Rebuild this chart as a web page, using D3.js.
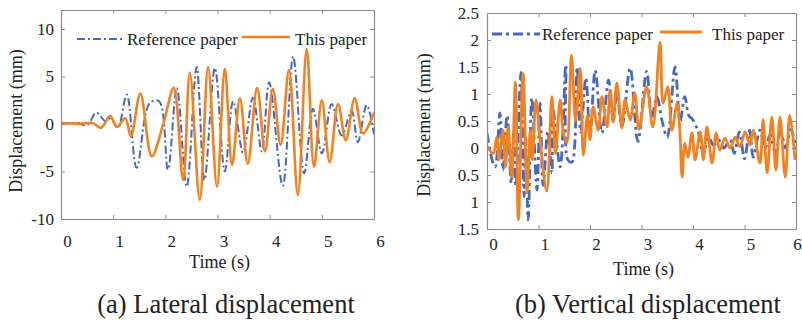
<!DOCTYPE html>
<meta charset="utf-8">
<script src="https://d3js.org/d3.v7.min.js"></script>
<style>
  body { margin: 0; background: #fff; }
  text { font-family: "Liberation Serif", "Tinos", "Times New Roman", "DejaVu Serif", serif; fill: #222; }
</style>
<body>
<svg id="chart" width="802" height="320"></svg>
<script>
// ---- data ----
var timeTicks = [0, 1, 2, 3, 4, 5, 6];
var timeLabels = ["0", "1", "2", "3", "4", "5", "6"];
var latYTicks = [-10, -5, 0, 5, 10];
var latYLabels = ["-10", "-5", "0", "5", "10"];
var vertYTicks = [-1.5, -1, -0.5, 0, 0.5, 1, 1.5, 2, 2.5];
var vertYLabels = ["1.5", "1", "0.5", "0", "0.5", "1", "1.5", "2", "2.5"]; // minus signs missing in the source
var seriesNames = ["Reference paper", "This paper"];
var captions = ["(a) Lateral displacement", "(b) Vertical displacement"];

// (a) lateral displacement, mm
var latRefT = [0, 0.3, 0.5, 0.68, 0.85, 0.95, 1.09, 1.26, 1.45, 1.7, 1.88, 2.05, 2.22, 2.41, 2.6, 2.75, 2.95, 3.14, 3.3, 3.49, 3.68, 3.85, 3.99, 4.25, 4.45, 4.66, 4.83, 5.0, 5.19, 5.38, 5.57, 5.69, 5.86, 6.0];
var latRefV = [0, 0.1, -0.1, 1.2, 0.3, 0.6, -0.4, 3.1, -4.6, 2.2, 2.4, -4.8, 3.8, -6.6, 6.0, -5.9, 5.9, -5.0, 2.4, -3.0, 2.8, -2.9, 4.4, -6.5, 7.1, -5.2, 1.6, -3.1, 2.1, -1.2, 1.4, -1.9, 2.0, -1.1];
var latThisT = [0, 0.2, 0.4, 0.6, 0.77, 0.94, 1.07, 1.23, 1.34, 1.52, 1.74, 1.97, 2.16, 2.34, 2.47, 2.66, 2.82, 2.99, 3.14, 3.28, 3.43, 3.58, 3.76, 3.91, 4.06, 4.21, 4.37, 4.54, 4.71, 4.85, 5.0, 5.15, 5.31, 5.46, 5.63, 5.79, 6.0];
var latThisV = [0.1, 0.05, 0.05, 0.1, -0.4, 0.85, -0.3, 0.6, -1.3, 3.2, -3.4, 0.2, 3.8, -5.9, 5.4, -8.0, 6.0, -6.6, 5.8, -4.3, 2.7, -4.2, 3.8, -2.9, 3.7, -2.2, 5.7, -7.5, 7.9, -4.5, 2.5, -4.0, 2.1, -1.7, 2.7, -1.0, 1.2];

// (b) vertical displacement, mm
var vertRefT = [0, 0.1, 0.16, 0.25, 0.31, 0.39, 0.47, 0.52, 0.56, 0.66, 0.72, 0.75, 0.8, 0.87, 0.97, 1.03, 1.09, 1.18, 1.26, 1.28, 1.42, 1.53, 1.57, 1.65, 1.7, 1.75, 1.82, 1.92, 2.0, 2.1, 2.23, 2.36, 2.45, 2.52, 2.62, 2.78, 2.93, 3.1, 3.2, 3.3, 3.4, 3.5, 3.65, 3.75, 3.84, 3.92, 4.0, 4.1, 4.2, 4.3, 4.4, 4.5, 4.6, 4.72, 4.8, 4.9, 5.0, 5.1, 5.17, 5.3, 5.4, 5.5, 5.6, 5.7, 5.8, 5.9, 6.0];
var vertRefV = [0.28, -0.22, -0.35, 0.65, -0.41, 0.6, -0.65, 0.3, -0.72, 1.4, -0.9, 0.2, -1.33, 0.92, -0.78, 0.83, -0.69, 0.3, -0.46, 0.74, -0.35, 1.54, -0.22, -0.26, 0.02, 1.5, 0.3, 1.3, 0.2, 1.44, 0.28, 1.26, 0.5, 1.0, 0.4, 1.48, 0.12, 1.42, 0.57, 0.95, 0.5, 0.2, 1.5, 0.5, 0.95, 0.6, 0.52, 0.3, -0.1, 0.2, 0.05, 0.15, 0.0, 0.15, -0.1, 0.3, -0.2, 0.33, -0.17, 0.33, 0.0, 0.25, -0.1, 0.3, 0.0, 0.35, 0.0];
var vertThisT = [0, 0.12, 0.19, 0.23, 0.31, 0.36, 0.41, 0.48, 0.55, 0.61, 0.7, 0.78, 0.84, 0.88, 0.95, 1.03, 1.16, 1.26, 1.33, 1.42, 1.48, 1.55, 1.64, 1.72, 1.81, 1.87, 1.95, 2.0, 2.06, 2.16, 2.23, 2.33, 2.39, 2.45, 2.52, 2.62, 2.68, 2.78, 2.87, 2.95, 3.1, 3.22, 3.36, 3.42, 3.51, 3.59, 3.69, 3.74, 3.79, 3.84, 3.9, 3.98, 4.04, 4.14, 4.2, 4.27, 4.37, 4.45, 4.52, 4.62, 4.72, 4.82, 4.91, 5.01, 5.11, 5.17, 5.3, 5.36, 5.44, 5.53, 5.61, 5.69, 5.79, 5.88, 5.98];
var vertThisV = [0.04, -0.1, 0.2, -0.22, 0.33, -0.35, 0.39, -0.54, 1.22, -1.33, 1.38, -0.83, 0.33, -0.22, 0.89, 0.15, -0.8, 0.95, -0.1, 0.89, 0.3, 0.1, 1.72, 0.5, 1.48, -0.13, 0.6, 0.15, 0.76, 0.33, 0.95, 0.39, 1.07, 0.48, 1.2, 0.37, 0.89, 0.52, 1.02, 0.35, 1.13, 0.39, 1.96, 0.83, 1.13, 0.33, 0.83, 0.4, -0.54, 0.09, -0.17, 0.28, -0.22, 0.3, -0.22, 0.39, -0.28, 0.28, -0.04, 0.18, 0.0, 0.2, 0.02, 0.3, 0.06, 0.33, -0.28, 0.52, -0.46, 0.57, -0.41, 0.57, -0.54, 0.61, -0.22];

var blue = "#4468c4", orange = "#f5801f", frameColor = "#8c8c8c";
var serif = "Liberation Serif, Tinos, Times New Roman, DejaVu Serif, serif";

var svg = d3.select("#chart");

function zip(t, v) { return t.map(function(d, i) { return [d, v[i]]; }); }

function drawPanel(p) {
  var g = svg.append("g");
  var x = d3.scaleLinear().domain([0, 6]).range([p.left, p.right]);
  var y = d3.scaleLinear().domain(p.yDomain).range([p.bottom, p.top]);

  g.append("clipPath").attr("id", p.id)
    .append("rect").attr("x", p.left).attr("y", p.top)
    .attr("width", p.right - p.left).attr("height", p.bottom - p.top);

  var line = d3.line()
    .x(function(d) { return x(d[0]); })
    .y(function(d) { return y(d[1]); })
    .curve(d3.curveCatmullRom.alpha(0.5));

  var plot = g.append("g").attr("clip-path", "url(#" + p.id + ")");
  plot.append("path").datum(zip(p.refT, p.refV))
    .attr("d", line).attr("fill", "none")
    .attr("stroke", blue).attr("stroke-width", p.refWidth)
    .attr("stroke-dasharray", p.dash).attr("stroke-linejoin", "round");
  plot.append("path").datum(zip(p.thisT, p.thisV))
    .attr("d", line).attr("fill", "none")
    .attr("stroke", orange).attr("stroke-width", p.thisWidth)
    .attr("stroke-linejoin", "round");

  // box with inward ticks on all four sides
  var xb = d3.axisBottom(x).tickValues(timeTicks)
    .tickFormat(function(d, i) { return timeLabels[i]; })
    .tickSizeInner(-4).tickSizeOuter(0).tickPadding(p.xPad);
  var xt = d3.axisTop(x).tickValues(timeTicks).tickFormat("").tickSizeInner(-4).tickSizeOuter(0);
  var yl = d3.axisLeft(y).tickValues(p.yTicks)
    .tickFormat(function(d, i) { return p.yLabels[i]; })
    .tickSizeInner(-4).tickSizeOuter(0).tickPadding(p.yPad);
  var yr = d3.axisRight(y).tickValues(p.yTicks).tickFormat("").tickSizeInner(-4).tickSizeOuter(0);

  var axes = [
    g.append("g").attr("transform", "translate(0," + p.bottom + ")").call(xb),
    g.append("g").attr("transform", "translate(0," + p.top + ")").call(xt),
    g.append("g").attr("transform", "translate(" + p.left + ",0)").call(yl),
    g.append("g").attr("transform", "translate(" + p.right + ",0)").call(yr)
  ];
  axes.forEach(function(a) {
    a.attr("font-family", serif);
    a.select(".domain").attr("stroke", frameColor).attr("stroke-width", 1.2);
    a.selectAll(".tick line").attr("stroke", frameColor);
    a.selectAll(".tick text").attr("font-size", 17).attr("fill", "#222");
  });
  axes[0].selectAll(".tick text").attr("dx", function(d, i) {
    return i === timeTicks.length - 1 ? p.lastDx : 6;
  });

  g.append("text").attr("x", (p.left + p.right) / 2 + 2).attr("y", p.xTitleY)
    .attr("text-anchor", "middle").attr("font-size", 18).text("Time (s)");
  g.append("text").attr("transform", "translate(" + p.yTitleX + "," + p.yTitleY + ") rotate(-90)")
    .attr("text-anchor", "middle").attr("font-size", 18).text("Displacement (mm)");

  // legend
  var lg = p.legend;
  g.append("line").attr("x1", lg.refX).attr("x2", lg.refX + 48).attr("y1", lg.y).attr("y2", lg.y)
    .attr("stroke", blue).attr("stroke-width", p.refWidth).attr("stroke-dasharray", p.dash);
  g.append("text").attr("x", lg.refX + 50).attr("y", lg.y + 6).attr("font-size", 17).text(seriesNames[0]);
  g.append("line").attr("x1", lg.thisX).attr("x2", lg.thisX + lg.thisLen).attr("y1", lg.y - 2).attr("y2", lg.y - 2)
    .attr("stroke", orange).attr("stroke-width", p.thisWidth);
  g.append("text").attr("x", lg.thisTextX).attr("y", lg.y + 6).attr("font-size", 17).text(seriesNames[1]);

  g.append("text").attr("x", p.capX).attr("y", 313).attr("text-anchor", "middle")
    .attr("font-size", 26.5).text(p.caption);
}

drawPanel({
  id: "clipA", left: 61, right: 374, top: 10, bottom: 219, yDomain: [-10, 12],
  yTicks: latYTicks, yLabels: latYLabels, xPad: 16, yPad: 7, lastDx: 6,
  refT: latRefT, refV: latRefV, thisT: latThisT, thisV: latThisV,
  refWidth: 2, thisWidth: 2.6, dash: "8,3,2,3",
  xTitleY: 268, yTitleX: 22, yTitleY: 121,
  legend: { refX: 77, y: 39, thisX: 242, thisLen: 48, thisTextX: 295 },
  capX: 226, caption: captions[0]
});

drawPanel({
  id: "clipB", left: 487, right: 796, top: 13, bottom: 229, yDomain: [-1.5, 2.5],
  yTicks: vertYTicks, yLabels: vertYLabels, xPad: 9, yPad: 8, lastDx: 1,
  refT: vertRefT, refV: vertRefV, thisT: vertThisT, thisV: vertThisV,
  refWidth: 2.8, thisWidth: 2.8, dash: "10,4,3,4",
  xTitleY: 275, yTitleX: 430, yTitleY: 125,
  legend: { refX: 492, y: 34, thisX: 660, thisLen: 42, thisTextX: 712 },
  capX: 648, caption: captions[1]
});
</script>
</body>
